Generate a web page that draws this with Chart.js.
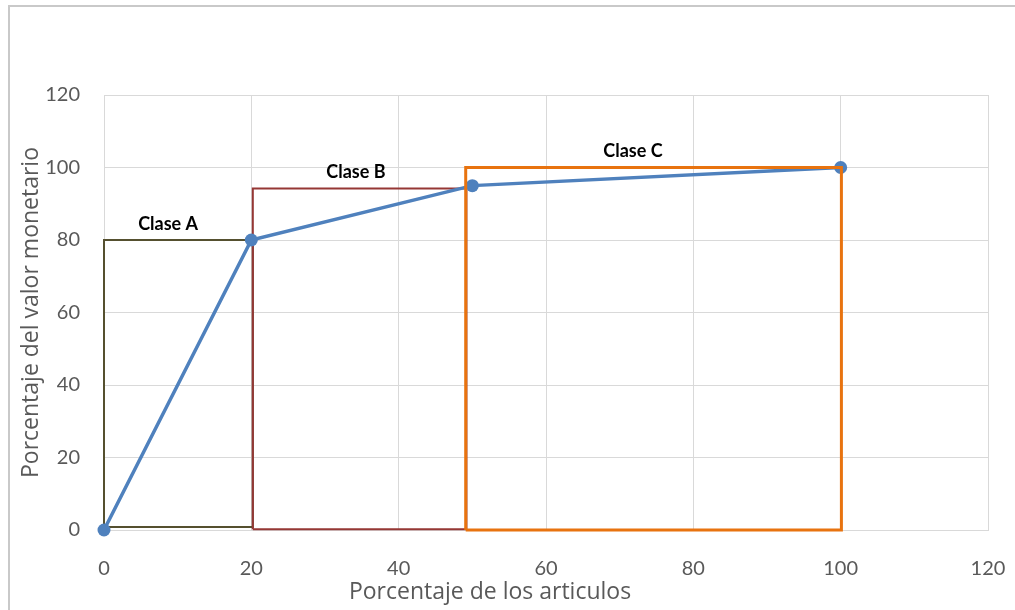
<!DOCTYPE html>
<html lang="es">
<head>
<meta charset="utf-8">
<title>Clasificación ABC</title>
<script src="https://cdn.jsdelivr.net/npm/chart.js@4.4.1/dist/chart.umd.min.js"></script>
<style>
  html, body { margin: 0; padding: 0; background: #ffffff; overflow: hidden; }
  #wrap { position: relative; width: 1015px; height: 610px; }
  #frame {
    position: absolute; left: 8px; top: 5px; width: 1020px; height: 620px;
    border-left: 2px solid #c9c9c9; border-top: 2px solid #c9c9c9;
    box-sizing: border-box; pointer-events: none;
  }
  canvas { position: absolute; left: 0; top: 0; }
</style>
</head>
<body>
<div id="wrap">
  <canvas id="grafico" width="1015" height="610"></canvas>
  <div id="frame"></div>
</div>
<script>
// Curva ABC: porcentaje acumulado de artículos frente a valor monetario
const porcArticulos = [0, 20, 50, 100];
const porcValor = [0, 80, 95, 100];

// Zonas de cada clase (límites en unidades de los ejes)
const clases = ['Clase A', 'Clase B', 'Clase C'];
const limiteIzq = [0, 20.2, 49.1];
const limiteDer = [20.2, 49.2, 100.1];
const limiteInf = [0.8, 0.2, 0];
const limiteSup = [80, 94.2, 100];

// Marcas de los ejes
const ticksX = [0, 20, 40, 60, 80, 100, 120];
const ticksY = [0, 20, 40, 60, 80, 100, 120];

const coloresClase = ['#55502f', '#953735', '#e8730f'];
const grosorClase = [2, 2, 3];
const anclaEtiqueta = [8.7, 34.2, 71.8];

function rectangulo(i) {
  return [
    { x: limiteIzq[i], y: limiteInf[i] },
    { x: limiteIzq[i], y: limiteSup[i] },
    { x: limiteDer[i], y: limiteSup[i] },
    { x: limiteDer[i], y: limiteInf[i] },
    { x: limiteIzq[i], y: limiteInf[i] }
  ];
}

function zona(i) {
  return {
    label: clases[i],
    data: rectangulo(i),
    showLine: true,
    borderColor: coloresClase[i],
    backgroundColor: coloresClase[i],
    borderWidth: grosorClase[i],
    pointRadius: 0,
    pointHoverRadius: 0,
    tension: 0,
    borderJoinStyle: 'miter',
    clip: false
  };
}

const curva = {
  label: 'Curva ABC',
  data: porcArticulos.map((x, i) => ({ x: x, y: porcValor[i] })),
  showLine: true,
  borderColor: '#4f81bd',
  backgroundColor: '#4f81bd',
  borderWidth: 3.5,
  pointRadius: 6.5,
  pointBorderWidth: 0,
  pointHoverRadius: 6.5,
  tension: 0,
  clip: false
};

// Textos de cada clase sobre el borde superior de su zona
const etiquetasClase = {
  id: 'etiquetasClase',
  afterDatasetsDraw(chart) {
    const { ctx, scales: { x, y } } = chart;
    ctx.save();
    ctx.font = 'bold 18px Lato';
    ctx.fillStyle = '#000000';
    ctx.textAlign = 'center';
    ctx.textBaseline = 'middle';
    clases.forEach((nombre, i) => {
      const px = x.getPixelForValue(anclaEtiqueta[i]);
      const py = y.getPixelForValue(limiteSup[i]) - 16;
      ctx.fillText(nombre, px, py);
    });
    ctx.restore();
  }
};

// Título del eje horizontal
const tituloX = {
  id: 'tituloX',
  afterDraw(chart) {
    const { ctx } = chart;
    ctx.save();
    ctx.font = '23px "Open Sans"';
    ctx.fillStyle = '#595959';
    ctx.textAlign = 'center';
    ctx.textBaseline = 'middle';
    ctx.fillText('Porcentaje de los articulos', 490, 592);
    ctx.restore();
  }
};

new Chart(document.getElementById('grafico'), {
  type: 'scatter',
  data: {
    datasets: [zona(2), curva, zona(1), zona(0)]
  },
  options: {
    responsive: false,
    animation: false,
    events: [],
    layout: { padding: { left: 18, top: 95, right: 27, bottom: 0 } },
    plugins: {
      legend: { display: false },
      tooltip: { enabled: false }
    },
    scales: {
      x: {
        type: 'linear',
        min: 0,
        max: 120,
        afterBuildTicks: s => { s.ticks = ticksX.map(v => ({ value: v })); },
        afterFit: s => { s.height = 80; s.paddingLeft = 0; s.paddingRight = 0; },
        ticks: {
          font: { family: 'Lato', size: 20 },
          color: '#595959',
          padding: 27,
          maxRotation: 0
        },
        grid: { color: '#d9d9d9', lineWidth: 1, drawTicks: false },
        border: { color: '#d9d9d9', width: 1 }
      },
      y: {
        type: 'linear',
        min: 0,
        max: 120,
        afterBuildTicks: s => { s.ticks = ticksY.map(v => ({ value: v })); },
        afterFit: s => { s.width = 86; s.paddingTop = 0; s.paddingBottom = 0; },
        ticks: {
          font: { family: 'Lato', size: 20 },
          color: '#595959',
          padding: 24
        },
        grid: { color: '#d9d9d9', lineWidth: 1, drawTicks: false },
        border: { color: '#d9d9d9', width: 1 },
        title: {
          display: true,
          text: 'Porcentaje del valor monetario',
          font: { family: 'Open Sans', size: 23 },
          color: '#595959',
          padding: 0
        }
      }
    }
  },
  plugins: [etiquetasClase, tituloX]
});
</script>
</body>
</html>
